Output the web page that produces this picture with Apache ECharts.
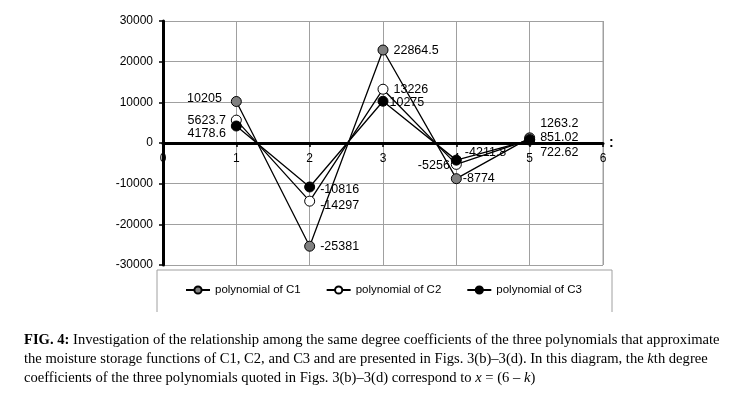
<!DOCTYPE html>
<html><head><meta charset="utf-8">
<script src="https://cdn.jsdelivr.net/npm/echarts@6/dist/echarts.min.js"></script>
<style>html,body{margin:0;padding:0;background:#fff}#c{width:741px;height:395px}</style>
</head><body><div id="c"></div>
<script>
var xValues = [1, 2, 3, 4, 5];
var c1 = [10205, -25381, 22864.5, -8774, 1263.2];
var c2 = [5623.7, -14297, 13226, -5256, 851.02];
var c3 = [4178.6, -10816, 10275, -4211.8, 722.62];
var seriesNames = ['polynomial of C1', 'polynomial of C2', 'polynomial of C3'];

// label placement per point (style only)
var lab1 = [{p:'left',o:[-4,-3]},{p:'right',o:[0,0]},{p:'right',o:[0,1]},{p:'right',o:[-4,0]},{p:'right',o:[0,-14]}];
var lab2 = [{p:'left',o:[0,0]},{p:'right',o:[0,4]},{p:'right',o:[0,0]},{p:'left',o:[4,1]},{p:'right',o:[0,-2]}];
var lab3 = [{p:'left',o:[0,8]},{p:'right',o:[0,3]},{p:'right',o:[-4,1]},{p:'right',o:[-2,-8]},{p:'right',o:[0,12]}];

function build(vals, labs){
  return vals.map(function(v,i){
    return {value:[xValues[i], v], label:{position:labs[i].p, offset:labs[i].o}};
  });
}
var fills = ['#808080', '#ffffff', '#000000'];
var all = [c1, c2, c3], labsAll = [lab1, lab2, lab3];
var series = all.map(function(vals, k){
  return {
    name: seriesNames[k], type:'line', data: build(vals, labsAll[k]),
    symbol:'circle', symbolSize:10,
    itemStyle:{color:fills[k], borderColor:'#000', borderWidth:1},
    lineStyle:{color:'#000', width:1.3},
    label:{show:true, color:'#000', fontFamily:'Liberation Sans, Arial', fontSize:12.5, distance:5,
      formatter:function(p){return String(p.value[1]);}},
    z: 3 + k
  };
});

var chart = echarts.init(document.getElementById('c'));
chart.setOption({
  animation:false,
  backgroundColor:'#fff',
  grid:{left:163, right:138, top:21, bottom:130, containLabel:false},
  xAxis:{type:'value', min:0, max:6, interval:1, position:'bottom', offset:-122,
    name:':', nameGap:6, nameTextStyle:{color:'#000', fontSize:14, fontWeight:'bold', fontFamily:'Liberation Sans'},
    axisLine:{onZero:false, lineStyle:{color:'#000', width:3}},
    axisTick:{show:true, inside:false, length:4, lineStyle:{color:'#000', width:1.5}},
    axisLabel:{color:'#000', fontSize:12, fontFamily:'Liberation Sans, Arial', margin:10, showMinLabel:true, showMaxLabel:true},
    splitLine:{show:true, lineStyle:{color:'#a0a0a0', width:1}}},
  yAxis:{type:'value', min:-30000, max:30000, interval:10000,
    axisLine:{show:true, onZero:false, lineStyle:{color:'#000', width:3}},
    axisTick:{show:true, length:4, lineStyle:{color:'#000', width:1.5}},
    axisLabel:{color:'#000', fontSize:12, fontFamily:'Liberation Sans, Arial', margin:10,
      formatter:function(v){return String(v);}},
    splitLine:{show:true, lineStyle:{color:'#a0a0a0', width:1}}},
  legend:{data:seriesNames, left:180, top:279, itemWidth:24, itemHeight:9, itemGap:25,
    textStyle:{color:'#000', fontSize:11.5, fontFamily:'Liberation Sans, Arial'}},
  graphic:[
    {type:'polyline', shape:{points:[[157,312],[157,270],[612,270],[612,312]]},
      style:{fill:null, stroke:'#a0a0a0', lineWidth:1}},
    {type:'line', shape:{x1:603,y1:21,x2:603,y2:265}, style:{stroke:'#a0a0a0', lineWidth:1}},
    {type:'text', left:24, top:331, style:{
      text:'{b|FIG. 4:} Investigation of the relationship among the same degree coefficients of the three polynomials that approximate\n' +
           'the moisture storage functions of C1, C2, and C3 and are presented in Figs. 3(b)–3(d). In this diagram, the {i|k}th degree\n' +
           'coefficients of the three polynomials quoted in Figs. 3(b)–3(d) correspond to {i|x} = (6 – {i|k})',
      fontFamily:'Liberation Serif, Times New Roman', fontSize:14.6, fill:'#000', lineHeight:19,
      rich:{b:{fontWeight:'bold', fontFamily:'Liberation Serif', fontSize:14.6, lineHeight:19},
            i:{fontStyle:'italic', fontFamily:'Liberation Serif', fontSize:14.6, lineHeight:19}}}}
  ],
  series: series
});
</script></body></html>
